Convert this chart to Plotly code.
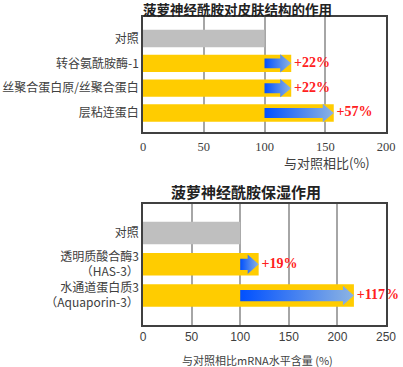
import plotly.graph_objects as go

# ---------------- data ----------------
top_title = "菠萝神经酰胺对皮肤结构的作用"
top_categories = ["对照", "转谷氨酰胺酶-1", "丝聚合蛋白原/丝聚合蛋白", "层粘连蛋白"]
top_values = [100, 122, 122, 157]
top_labels = ["", "+22%", "+22%", "+57%"]
top_axis_title = "与对照相比(%)"
top_ticks = [0, 50, 100, 150, 200]

bot_title = "菠萝神经酰胺保湿作用"
bot_categories = ["对照", "透明质酸合酶3<br>（HAS-3）", "水通道蛋白质3<br>（Aquaporin-3）"]
bot_values = [100, 119, 217]
bot_labels = ["", "+19%", "+117%"]
bot_axis_title = "与对照相比mRNA水平含量 (%)"
bot_ticks = [0, 50, 100, 150, 200, 250]

control_value = 100

# ---------------- style ----------------
W, H = 403, 367
ML, MT = 143, 17
PW = 243
PH = 308
MR = W - ML - PW
MB = H - MT - PH

GRAY = "#BFBFBF"
YELLOW = "#FFCC00"
RED = "#FF2020"
FRAME = "#404040"
GRID = "#A6A6A6"
TXT = "#404040"
CJK = "Noto Sans CJK SC"
SERIF = "Liberation Serif"
ARROW_SCALE = [[0, "#0050FF"], [1, "#8DB4E2"]]


def py(px):
    # reference pixel y -> paper y
    return (MT + PH - px) / PH


def px_x(px):
    return (px - ML) / PW


fig = go.Figure()


def add_chart(cats, vals, labels, xa, ya, xmax, bar_w, body_h, head_h, head_px):
    idx = list(range(len(cats)))
    colors = [GRAY if i == 0 else YELLOW for i, v in enumerate(vals)]
    fig.add_trace(go.Bar(
        x=vals, y=idx, orientation="h", width=bar_w,
        marker=dict(color=colors, line=dict(width=0)),
        xaxis=xa, yaxis=ya, hoverinfo="skip",
    ))
    head = head_px * xmax / PW
    for i, v in enumerate(vals):
        if i == 0:
            continue
        xs = [control_value, v - head, v - head, v, v - head, v - head, control_value, control_value]
        ys = [i - body_h, i - body_h, i - head_h, i, i + head_h, i + body_h, i + body_h, i - body_h]
        fig.add_trace(go.Scatter(
            x=xs, y=ys, mode="lines", fill="toself",
            line=dict(width=0, color="rgba(0,0,0,0)"),
            fillgradient=dict(type="horizontal", colorscale=ARROW_SCALE),
            xaxis=xa, yaxis=ya, hoverinfo="skip",
        ))
    fig.add_trace(go.Scatter(
        x=vals, y=idx, mode="text", text=["\u2009" + t if t else "" for t in labels],
        textposition="middle right",
        textfont=dict(family=SERIF, size=14, color=RED, weight="bold"),
        xaxis=xa, yaxis=ya, hoverinfo="skip", cliponaxis=False,
    ))


add_chart(top_categories, top_values, top_labels, "x", "y", 200, 0.7, 0.2, 0.37, 11)
add_chart(bot_categories, bot_values, bot_labels, "x2", "y2", 250, 0.72, 0.18, 0.31, 11)

axis_common = dict(showline=True, mirror=True, linecolor=FRAME, linewidth=1.5,
                   ticks="", zeroline=False, fixedrange=True, automargin=False)

fig.update_layout(
    width=W, height=H,
    margin=dict(l=ML, r=MR, t=MT, b=MB, autoexpand=False),
    paper_bgcolor="white", plot_bgcolor="white",
    showlegend=False,
    xaxis=dict(domain=[0, 1], anchor="y", range=[0, 200], tickvals=top_ticks,
               showgrid=True, gridcolor=GRID, gridwidth=1.5,
               tickfont=dict(family=SERIF, size=12.5, color=TXT), ticklabelstandoff=2,
               **axis_common),
    yaxis=dict(domain=[py(132), 1], anchor="x", range=[3.766, -0.867],
               tickvals=list(range(len(top_categories))), ticktext=top_categories,
               showgrid=False, tickfont=dict(family=CJK, size=12, color=TXT),
               **axis_common),
    xaxis2=dict(domain=[0, 1], anchor="y2", range=[0, 250], tickvals=bot_ticks,
                showgrid=True, gridcolor=GRID, gridwidth=1.5,
                tickfont=dict(family="Liberation Sans", size=12, color=TXT),
                **axis_common),
    yaxis2=dict(domain=[0, py(204)], anchor="x2", range=[2.944, -0.928],
                tickvals=list(range(len(bot_categories))), ticktext=bot_categories,
                showgrid=False, tickfont=dict(family=CJK, size=12, color=TXT),
                **axis_common),
    annotations=[
        dict(text=f"<b>{top_title}</b>", xref="paper", yref="paper",
             x=px_x(237), y=py(9), showarrow=False, xanchor="center", yanchor="middle",
             font=dict(family=CJK, size=13.5, color="#222222")),
        dict(text=top_axis_title, xref="paper", yref="paper",
             x=px_x(327), y=py(162.5), showarrow=False, xanchor="center", yanchor="middle",
             font=dict(family=CJK, size=13, color=TXT)),
        dict(text=f"<b>{bot_title}</b>", xref="paper", yref="paper",
             x=px_x(246), y=py(191), showarrow=False, xanchor="center", yanchor="middle",
             font=dict(family=CJK, size=15, color="#222222")),
        dict(text=bot_axis_title, xref="paper", yref="paper",
             x=px_x(257), y=py(360), showarrow=False, xanchor="center", yanchor="middle",
             font=dict(family=CJK, size=11, color=TXT)),
    ],
)

fig.write_html("out.html", config={"displayModeBar": False},
               post_script="document.body.style.margin='0';")
